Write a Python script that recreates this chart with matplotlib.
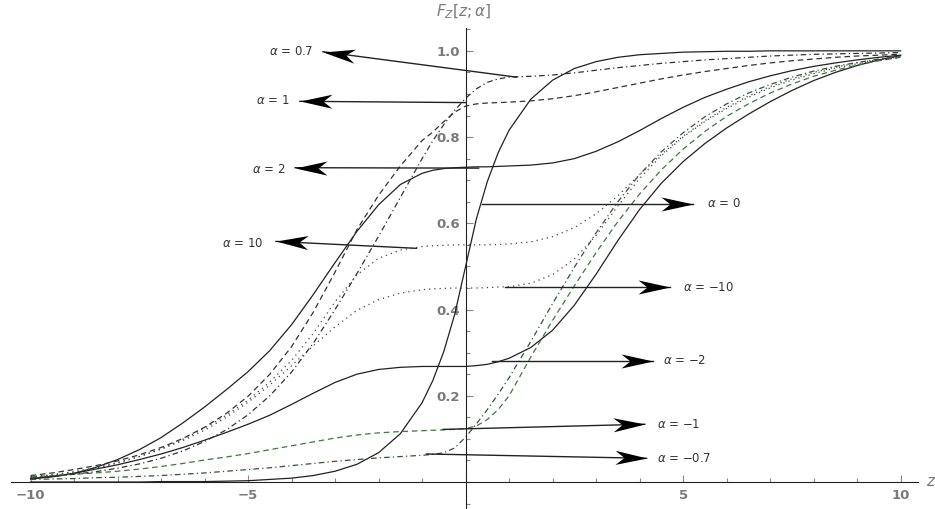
import math
import matplotlib
matplotlib.use("Agg")
import matplotlib.pyplot as plt
from matplotlib.ticker import MultipleLocator, FixedLocator
from matplotlib.markers import MarkerStyle
from matplotlib.path import Path
from matplotlib.transforms import Affine2D

# z grid shared by all curves
z = [-10, -9.5, -9, -8.5, -8, -7.5, -7, -6.5, -6, -5.5, -5, -4.5, -4, -3.5, -3, -2.5,
     -2, -1.5, -1, -0.75, -0.5, -0.25, 0, 0.25, 0.5, 0.75, 1, 1.5, 2, 2.5, 3, 3.5,
     4, 4.5, 5, 5.5, 6, 6.5, 7, 7.5, 8, 8.5, 9, 9.5, 10]

# F_Z[z; alpha]
F_a0 = [0.000, 0.000, 0.000, 0.000, 0.000, 0.000, 0.001, 0.001, 0.001, 0.002, 0.003,
        0.006, 0.009, 0.015, 0.025, 0.041, 0.068, 0.112, 0.184, 0.236, 0.303, 0.389,
        0.500, 0.611, 0.697, 0.764, 0.816, 0.888, 0.932, 0.959, 0.975, 0.985, 0.991,
        0.994, 0.997, 0.998, 0.999, 0.999, 1.000, 1.000, 1.000, 1.000, 1.000, 1.000, 1.000]
F_a2 = [0.008, 0.013, 0.020, 0.034, 0.052, 0.075, 0.103, 0.137, 0.174, 0.214, 0.256,
        0.305, 0.365, 0.435, 0.509, 0.581, 0.643, 0.690, 0.716, 0.723, 0.727, 0.729,
        0.730, 0.731, 0.731, 0.732, 0.733, 0.735, 0.740, 0.750, 0.767, 0.789, 0.815,
        0.843, 0.869, 0.892, 0.911, 0.928, 0.942, 0.954, 0.964, 0.972, 0.979, 0.985, 0.990]
F_am2 = [0.007, 0.012, 0.020, 0.030, 0.040, 0.052, 0.065, 0.080, 0.097, 0.115, 0.134,
         0.155, 0.180, 0.206, 0.231, 0.250, 0.261, 0.266, 0.268, 0.268, 0.268, 0.268,
         0.268, 0.270, 0.273, 0.279, 0.287, 0.312, 0.352, 0.410, 0.482, 0.560, 0.632,
         0.693, 0.743, 0.785, 0.821, 0.853, 0.882, 0.908, 0.931, 0.950, 0.966, 0.979, 0.989]
F_a1 = [0.015, 0.021, 0.029, 0.038, 0.049, 0.063, 0.080, 0.101, 0.127, 0.159, 0.199,
        0.250, 0.314, 0.394, 0.487, 0.585, 0.665, 0.733, 0.792, 0.812, 0.836, 0.858,
        0.872, 0.877, 0.879, 0.880, 0.881, 0.884, 0.889, 0.896, 0.905, 0.915, 0.925,
        0.935, 0.944, 0.952, 0.959, 0.966, 0.972, 0.977, 0.981, 0.985, 0.988, 0.990, 0.992]
F_am1 = [0.012, 0.015, 0.018, 0.021, 0.025, 0.030, 0.036, 0.043, 0.051, 0.058, 0.066,
         0.075, 0.084, 0.093, 0.102, 0.109, 0.114, 0.117, 0.119, 0.120, 0.121, 0.122,
         0.124, 0.130, 0.145, 0.168, 0.200, 0.290, 0.375, 0.455, 0.532, 0.604, 0.668,
         0.724, 0.772, 0.813, 0.848, 0.877, 0.902, 0.923, 0.941, 0.955, 0.967, 0.977, 0.985]
F_a07 = [0.009, 0.013, 0.018, 0.024, 0.032, 0.042, 0.055, 0.072, 0.094, 0.121, 0.156,
         0.200, 0.255, 0.322, 0.400, 0.483, 0.570, 0.660, 0.750, 0.792, 0.829, 0.862,
         0.890, 0.912, 0.927, 0.935, 0.939, 0.941, 0.944, 0.949, 0.955, 0.961, 0.966,
         0.971, 0.975, 0.979, 0.982, 0.985, 0.988, 0.990, 0.992, 0.993, 0.994, 0.995, 0.996]
F_am07 = [0.006, 0.007, 0.008, 0.010, 0.011, 0.013, 0.015, 0.018, 0.021, 0.025, 0.029,
          0.033, 0.038, 0.043, 0.048, 0.052, 0.056, 0.059, 0.062, 0.064, 0.068, 0.079,
          0.104, 0.135, 0.168, 0.204, 0.242, 0.326, 0.414, 0.498, 0.578, 0.650, 0.713,
          0.766, 0.810, 0.847, 0.877, 0.902, 0.922, 0.939, 0.953, 0.964, 0.973, 0.981, 0.987]
F_a10 = [0.011, 0.016, 0.023, 0.032, 0.044, 0.059, 0.077, 0.099, 0.125, 0.155, 0.190,
         0.232, 0.282, 0.345, 0.418, 0.480, 0.519, 0.538, 0.546, 0.548, 0.549, 0.550,
         0.550, 0.550, 0.550, 0.551, 0.552, 0.557, 0.569, 0.590, 0.622, 0.664, 0.713,
         0.760, 0.802, 0.838, 0.869, 0.895, 0.917, 0.935, 0.950, 0.962, 0.972, 0.980, 0.986]
F_am10 = [0.012, 0.017, 0.024, 0.033, 0.045, 0.059, 0.076, 0.096, 0.120, 0.150, 0.185,
          0.225, 0.270, 0.316, 0.360, 0.398, 0.423, 0.438, 0.446, 0.448, 0.449, 0.450,
          0.450, 0.450, 0.451, 0.452, 0.453, 0.461, 0.481, 0.517, 0.572, 0.640, 0.704,
          0.757, 0.800, 0.836, 0.866, 0.892, 0.914, 0.932, 0.947, 0.960, 0.970, 0.978, 0.985]

# label text, arrow tail (on curve), arrow tip, label position
labels = [r"$\alpha$ = 0.7", r"$\alpha$ = 1", r"$\alpha$ = 2", r"$\alpha$ = 10",
          r"$\alpha$ = 0", "$\\alpha$ = \u221210", "$\\alpha$ = \u22122",
          "$\\alpha$ = \u22121", "$\\alpha$ = \u22120.7"]
tails = [(1.17, 0.939), (0.0, 0.880), (0.3, 0.728), (-1.13, 0.542), (0.37, 0.644),
         (0.9, 0.452), (0.6, 0.281), (-0.52, 0.122), (-0.9, 0.065)]
tips = [(-3.28, 0.998), (-3.81, 0.883), (-3.92, 0.729), (-4.36, 0.558), (5.22, 0.644),
        (4.70, 0.452), (4.31, 0.281), (4.12, 0.134), (4.16, 0.055)]
label_xy = [(-3.51, 0.998), (-4.04, 0.884), (-4.15, 0.724), (-4.66, 0.554), (5.54, 0.645),
            (5.00, 0.452), (4.54, 0.281), (4.39, 0.134), (4.39, 0.055)]

dash = (0, (4.5, 3))
dot = (0, (1, 3.2))
dashdot = (0, (4.5, 2.5, 1, 2.5))

# swept-back arrowhead, tip at the origin pointing along +x
head_path = Path([(0, 0), (-1, 0.22), (-0.72, 0), (-1, -0.22), (0, 0)],
                 [Path.MOVETO, Path.LINETO, Path.LINETO, Path.LINETO, Path.CLOSEPOLY])

fig = plt.figure(figsize=(9.35, 5.09), dpi=100)
ax = fig.add_axes([11 / 935, 0, 907 / 935, 481 / 509])
ax.set_xlim(-10.45, 10.4)
ax.set_ylim(-0.0626, 1.053)

lw = 0.9
ax.plot(z, F_a0, color="#222222", lw=lw)
ax.plot(z, F_a2, color="#222222", lw=lw)
ax.plot(z, F_am2, color="#222222", lw=lw)
ax.plot(z, F_a1, color="#333333", lw=lw, linestyle=dash)
ax.plot(z, F_am1, color="#3d7a3d", lw=lw, linestyle=dash)
ax.plot(z, F_a07, color="#333333", lw=lw, linestyle=dashdot)
ax.plot(z, F_am07, color="#34553a", lw=lw, linestyle=dashdot)
ax.plot(z, F_a10, color="#444444", lw=lw, linestyle=dot)
ax.plot(z, F_am10, color="#444444", lw=lw, linestyle=dot)

for lab, t0, t1, lxy in zip(labels, tails, tips, label_xy):
    ax.plot([t0[0], t1[0]], [t0[1], t1[1]], color="#222222", lw=1.0)
    p0 = ax.transData.transform(t0)
    p1 = ax.transData.transform(t1)
    ang = math.degrees(math.atan2(p1[1] - p0[1], p1[0] - p0[0]))
    head = MarkerStyle(head_path, transform=Affine2D().rotate_deg(ang))
    ax.plot([t1[0]], [t1[1]], marker=head, markersize=46, color="black",
            markeredgewidth=0, linestyle="none")
    ha = "right" if lxy[0] < 0 else "left"
    ax.text(lxy[0], lxy[1], lab, fontsize=8.5, color="#333333", ha=ha, va="center")

# Mathematica style axes through the origin
for s in ["top", "right"]:
    ax.spines[s].set_visible(False)
ax.spines["left"].set_position(("data", 0))
ax.spines["bottom"].set_position(("data", 0))
ax.spines["left"].set_color("#222222")
ax.spines["bottom"].set_color("#222222")
ax.patch.set_alpha(0)

ax.xaxis.set_major_locator(FixedLocator([-10, -5, 5, 10]))
ax.xaxis.set_minor_locator(MultipleLocator(1))
ax.yaxis.set_major_locator(FixedLocator([0.2, 0.4, 0.6, 0.8, 1.0]))
ax.yaxis.set_minor_locator(MultipleLocator(0.05))
ax.set_yticklabels(["0.2", "0.4", "0.6", "0.8", "1.0"])
ax.tick_params(which="both", direction="in", color="#888888", width=0.8,
               labelcolor="#7a7a7a", labelsize=9.5)
ax.tick_params(which="major", length=5)
ax.tick_params(which="minor", length=3)
ax.tick_params(axis="x", pad=5)
ax.tick_params(axis="y", pad=4)
for t in ax.get_xticklabels() + ax.get_yticklabels():
    t.set_fontweight("bold")

fig.text(463.5 / 935, 1 - 11.5 / 509, r"$F_Z[z;\alpha]$", fontsize=11,
         color="#7a7a7a", ha="center", va="center")
fig.text(926 / 935, 1 - 482 / 509, "z", fontsize=11, style="italic",
         color="#7a7a7a", ha="left", va="center")

fig.savefig("out.png", dpi=100)
